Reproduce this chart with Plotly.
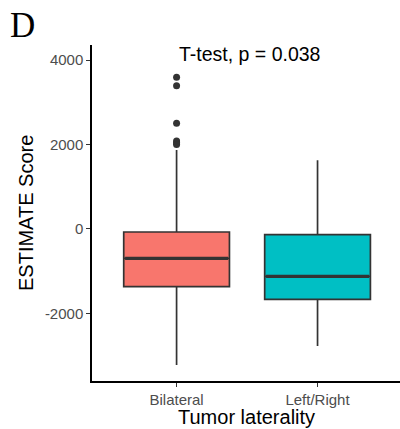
import plotly.graph_objects as go

# group names and precomputed box stats
groups = ["Bilateral", "Left/Right"]
fill_colors = ["#F8766D", "#00BFC4"]
q1 = [-1365, -1665]
median = [-694, -1120]
q3 = [-71, -134]
lower_whisker = [-3219, -2770]
upper_whisker = [1870, 1630]

# outliers of the Bilateral group
outliers_bilateral = [3590, 3390, 2500, 2080, 2040, 2000]

p_label = "T-test, p = 0.038"
y_ticks = [-2000, 0, 2000, 4000]
y_ticktext = ["-2000", "0", "2000", "4000"]

box_width = 0.75
line_col = "#333333"

fig = go.Figure()
for i, g in enumerate(groups):
    fig.add_trace(go.Box(
        x=[i], q1=[q1[i]], median=[median[i]], q3=[q3[i]],
        lowerfence=[lower_whisker[i]], upperfence=[upper_whisker[i]],
        width=box_width, fillcolor=fill_colors[i],
        line=dict(color=line_col, width=1.7), whiskerwidth=0,
        boxpoints=False, name=g, hoverinfo="skip"))
    # thicker median line, like ggplot
    fig.add_trace(go.Scatter(
        x=[i - box_width / 2 + 0.01, i + box_width / 2 - 0.01], y=[median[i], median[i]],
        mode="lines", line=dict(color=line_col, width=3.2), hoverinfo="skip"))

fig.add_trace(go.Scatter(
    x=[0] * len(outliers_bilateral), y=outliers_bilateral, mode="markers",
    marker=dict(color=line_col, size=7), hoverinfo="skip"))

fig.add_annotation(x=0, y=1, xref="x", yref="paper", text=p_label,
                   showarrow=False, xanchor="left", yanchor="middle", yshift=-9,
                   font=dict(size=19.5, color="black"))
fig.add_annotation(x=0, y=1, xref="paper", yref="paper", text="D",
                   showarrow=False, xanchor="left", yanchor="top",
                   xshift=-84, yshift=41,
                   font=dict(family="Liberation Serif", size=35, color="black"))
# axis titles as annotations for exact placement
fig.add_annotation(x=0.5, y=0, xref="paper", yref="paper", text="Tumor laterality",
                   showarrow=False, xanchor="center", yanchor="middle", yshift=-36,
                   font=dict(size=20, color="black"))
fig.add_annotation(x=0, y=0.5, xref="paper", yref="paper", text="ESTIMATE Score",
                   showarrow=False, xanchor="center", yanchor="middle", xshift=-66,
                   textangle=-90, font=dict(size=20, color="black"))

fig.update_layout(
    width=400, height=429,
    margin=dict(l=92, r=0, t=45, b=48),
    plot_bgcolor="white", paper_bgcolor="white",
    showlegend=False,
    font=dict(family="Liberation Sans, Arial", color="black"),
    xaxis=dict(range=[-0.6, 1.585], tickvals=[0, 1], ticktext=groups, automargin=False,
               showgrid=False, zeroline=False, showline=True, linecolor="black", linewidth=1.5,
               ticks="outside", ticklen=4, tickcolor="#333333", tickwidth=1.2,
               tickfont=dict(size=15, color="#4D4D4D")),
    yaxis=dict(range=[-3598, 4355], tickvals=y_ticks, ticktext=y_ticktext, automargin=False,
               showgrid=False, zeroline=False, showline=True, linecolor="black", linewidth=1.5,
               ticks="outside", ticklen=4, tickcolor="#333333", tickwidth=1.2,
               tickfont=dict(size=15, color="#4D4D4D")),
)

# drop the page's default body margin so the figure sits at the window corner
fig.write_html("out.html", config={"displayModeBar": False},
               post_script="document.body.style.margin='0';")
